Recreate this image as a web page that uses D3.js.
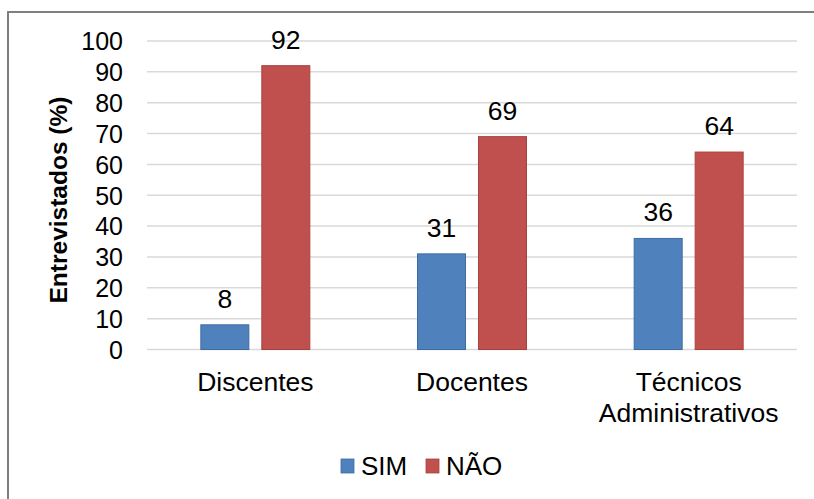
<!DOCTYPE html>
<html><head><meta charset="utf-8">
<script src="https://cdn.jsdelivr.net/npm/d3@7"></script>
<style>
html,body{margin:0;padding:0;background:#fff;}
svg{display:block;}
text{font-family:"Liberation Sans",Arial,sans-serif;fill:#000;}
</style></head>
<body>
<svg id="chart" width="814" height="499"></svg>
<script>
const categories = [["Discentes"], ["Docentes"], ["Técnicos", "Administrativos"]];
const categoryKeys = ["Discentes", "Docentes", "Técnicos Administrativos"];
const seriesNames = ["SIM", "NÃO"];
const simValues = [8, 31, 36];
const naoValues = [92, 69, 64];
const yTicks = [0, 10, 20, 30, 40, 50, 60, 70, 80, 90, 100];
const colors = ["#4f81bd", "#c0504d"];
const strokes = ["#3d6ca5", "#a9413e"];

const svg = d3.select("#chart");
const W = 814, H = 499;
const plot = {left: 147, right: 797, top: 41, bottom: 349.5};

// outer frame
svg.append("rect").attr("x", 8).attr("y", 12).attr("width", W + 10).attr("height", H + 10)
  .attr("fill", "#fff").attr("stroke", "#7f7f7f").attr("stroke-width", 2);

const y = d3.scaleLinear().domain([0, 100]).range([plot.bottom, plot.top]);
const x0 = d3.scaleBand().domain(categoryKeys).range([plot.left, plot.right])
  .paddingInner(0.497).paddingOuter(0.2485);
const x1 = d3.scaleBand().domain(seriesNames).range([0, x0.bandwidth()]).paddingInner(0.213).paddingOuter(0);

// gridlines
svg.append("g").selectAll("line").data(yTicks).join("line")
  .attr("x1", plot.left).attr("x2", plot.right)
  .attr("y1", d => y(d)).attr("y2", d => y(d))
  .attr("stroke", "#d9d9d9").attr("stroke-width", 1.5);

// y axis labels
const yAxis = svg.append("g").attr("transform", `translate(${plot.left},0)`)
  .call(d3.axisLeft(y).tickValues(yTicks).tickSize(0).tickPadding(24));
yAxis.select(".domain").remove();
yAxis.selectAll("text").attr("font-size", 25).attr("font-family", "Liberation Sans, Arial, sans-serif")
  .attr("fill", "#000").attr("dy", "0.35em");

// y axis title
svg.append("text").attr("transform", "translate(67,200) rotate(-90)")
  .attr("text-anchor", "middle").attr("font-size", 24.5).attr("font-weight", "bold")
  .text("Entrevistados (%)");

const data = categoryKeys.map((k, i) => ({key: k, values: [simValues[i], naoValues[i]]}));

const groups = svg.append("g").selectAll("g").data(data).join("g")
  .attr("transform", d => `translate(${x0(d.key)},0)`);

groups.selectAll("rect").data(d => d.values.map((v, j) => ({s: seriesNames[j], v, j}))).join("rect")
  .attr("x", d => x1(d.s)).attr("width", x1.bandwidth())
  .attr("y", d => y(d.v)).attr("height", d => y(0) - y(d.v))
  .attr("fill", d => colors[d.j]).attr("stroke", d => strokes[d.j]).attr("stroke-width", 1);

groups.selectAll("text.val").data(d => d.values.map((v, j) => ({s: seriesNames[j], v, j}))).join("text")
  .attr("class", "val")
  .attr("x", d => x1(d.s) + x1.bandwidth() / 2).attr("y", d => y(d.v) - 17)
  .attr("text-anchor", "middle").attr("font-size", 26.5).text(d => d.v);

// x category labels
const xl = svg.append("g").selectAll("text").data(categories).join("text")
  .attr("x", (d, i) => x0(categoryKeys[i]) + x0.bandwidth() / 2)
  .attr("y", 390.5).attr("text-anchor", "middle").attr("font-size", 26.5);
xl.selectAll("tspan").data(d => d).join("tspan")
  .attr("x", function() { return d3.select(this.parentNode).attr("x"); })
  .attr("dy", (d, i) => i === 0 ? 0 : 31).text(d => d);

// legend
const legendX = [341, 426];
const lg = svg.append("g").selectAll("g").data(seriesNames).join("g")
  .attr("transform", (d, i) => `translate(${legendX[i]},459)`);
lg.append("rect").attr("width", 13).attr("height", 14)
  .attr("fill", (d, i) => colors[i]).attr("stroke", (d, i) => strokes[i]).attr("stroke-width", 0.8);
lg.append("text").attr("x", 20).attr("y", 16).attr("font-size", 26).text(d => d);
</script>
</body></html>
